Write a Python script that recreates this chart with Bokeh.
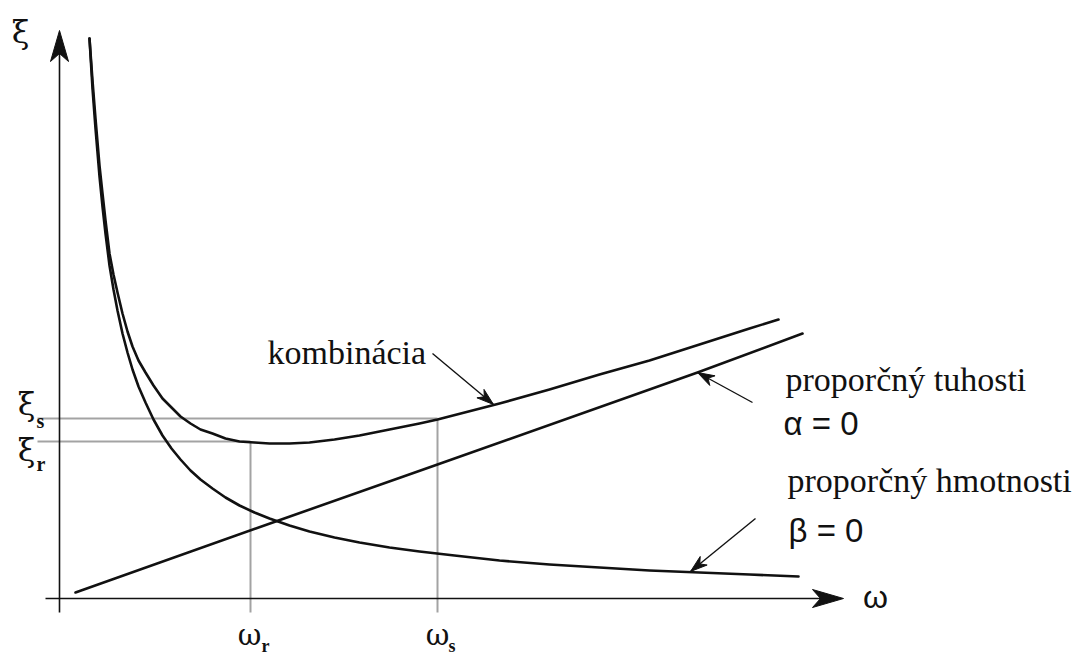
from bokeh.plotting import figure
from bokeh.models import Range1d
from bokeh.core.properties import value
from bokeh.embed import file_html
from bokeh.resources import INLINE
import math

# Rayleigh damping: damping ratio xi against circular frequency omega
# mass-proportional branch (beta = 0)
mass_w = [0.30, 0.33, 0.36, 0.40, 0.43, 0.46, 0.50, 0.54, 0.58, 0.63, 0.68, 0.73,
          0.79, 0.86, 0.94, 1.03, 1.12, 1.21, 1.31, 1.41, 1.53, 1.66, 1.80, 1.95,
          2.10, 2.30, 2.50, 2.75, 3.00, 3.30, 3.60, 3.95, 4.40, 4.90, 5.40, 5.90,
          6.40, 6.90, 7.39]
mass_xi = [5.60, 5.10, 4.70, 4.22, 3.92, 3.65, 3.33, 3.09, 2.88, 2.65, 2.46, 2.29,
           2.12, 1.96, 1.79, 1.63, 1.50, 1.39, 1.28, 1.19, 1.10, 1.01, 0.93, 0.86,
           0.80, 0.73, 0.67, 0.61, 0.56, 0.51, 0.47, 0.43, 0.38, 0.34, 0.31, 0.28,
           0.26, 0.24, 0.22]

# stiffness-proportional branch (alpha = 0)
stiff_w = [0.16, 2.19, 3.78, 6.38, 7.43]
stiff_xi = [0.06, 0.78, 1.34, 2.26, 2.65]

# combined damping
comb_w = [0.30, 0.33, 0.36, 0.40, 0.43, 0.46, 0.50, 0.54, 0.58, 0.63, 0.68, 0.73,
          0.79, 0.86, 0.94, 1.03, 1.12, 1.21, 1.31, 1.41, 1.53, 1.66, 1.80, 1.95,
          2.10, 2.30, 2.50, 2.75, 3.00, 3.30, 3.60, 3.78, 4.40, 4.90, 5.40, 5.90,
          6.40, 6.90, 7.19]
comb_xi = [5.60, 5.18, 4.80, 4.33, 4.05, 3.78, 3.45, 3.24, 3.06, 2.85, 2.67, 2.52,
           2.38, 2.26, 2.13, 2.00, 1.91, 1.82, 1.75, 1.69, 1.65, 1.60, 1.57, 1.56,
           1.55, 1.55, 1.56, 1.59, 1.63, 1.69, 1.75, 1.79, 1.95, 2.09, 2.24, 2.38,
           2.54, 2.70, 2.79]

# reference frequencies and damping ratios
omega_r, omega_s = 1.91, 3.78
xi_r, xi_s = 1.57, 1.80

W, H = 1083, 657
p = figure(width=W, height=H, output_backend="svg", toolbar_location=None,
           x_range=Range1d(-0.59, 10.24), y_range=Range1d(-0.59, 5.98),
           min_border=0)
p.axis.visible = False
p.grid.visible = False
p.outline_line_color = None
p.background_fill_color = "white"
p.border_fill_color = "white"

GRAY = "#a3a3a3"
INK = "#111111"

# guide lines for the two reference points
p.segment(x0=[-0.22, -0.22], y0=[xi_s, xi_r], x1=[omega_s, omega_r], y1=[xi_s, xi_r],
          line_color=GRAY, line_width=2)
p.segment(x0=[omega_r, omega_s], y0=[xi_r, xi_s], x1=[omega_r, omega_s], y1=[-0.14, -0.14],
          line_color=GRAY, line_width=2)

# coordinate axes
x_tip, y_tip = 7.84, 5.68
p.segment(x0=[-0.14, 0], y0=[0, -0.14], x1=[x_tip - 0.2, 0], y1=[0, y_tip - 0.2],
          line_color=INK, line_width=1.6)


def head(x0, y0, x1, y1, length, half_w, notch):
    """Filled, swept-back arrow head pointing from (x0, y0) to (x1, y1)."""
    dx, dy = x1 - x0, y1 - y0
    n = math.hypot(dx, dy)
    ux, uy = dx / n, dy / n
    bx, by = x1 - ux * length, y1 - uy * length
    px_, py_ = -uy, ux
    xs = [x1, bx + px_ * half_w, x1 - ux * notch, bx - px_ * half_w]
    ys = [y1, by + py_ * half_w, y1 - uy * notch, by - py_ * half_w]
    return xs, ys


hx, hy = [], []
for args in [(0, 0, x_tip, 0), (0, 0, 0, y_tip)]:
    xs, ys = head(*args, length=0.31, half_w=0.09, notch=0.23)
    hx.append(xs)
    hy.append(ys)

# curves
line_kw = dict(line_color=INK, line_width=2.6, line_join="round", line_cap="round")
p.line(mass_w, mass_xi, **line_kw)
p.line(comb_w, comb_xi, **line_kw)
p.line(stiff_w, stiff_xi, **line_kw)

# pointer arrows to the curves
pointers = [
    (3.73, 2.45, 4.34, 1.94),
    (6.93, 1.96, stiff_w[3], stiff_xi[3]),
    (6.96, 0.80, 6.31, 0.27),
]
for (x0, y0, x1, y1) in pointers:
    p.segment(x0=[x0], y0=[y0], x1=[x1], y1=[y1], line_color=INK, line_width=1.4)
    xs, ys = head(x0, y0, x1, y1, length=0.17, half_w=0.055, notch=0.12)
    hx.append(xs)
    hy.append(ys)

p.patches(hx, hy, fill_color=INK, line_color=INK, line_width=1)

SERIF = value("Liberation Serif")
SANS = value("Liberation Sans")
GREEK = value("DejaVu Serif")

# curve captions
p.text(x=[2.08], y=[2.46], text=["kombinácia"], text_font=SERIF, text_font_size="34px",
       text_color=INK, text_baseline="alphabetic", text_align="left")
p.text(x=[7.26, 7.28], y=[2.19, 1.18], text=["proporčný tuhosti", "proporčný hmotnosti"],
       text_font=SERIF, text_font_size="34px", text_color=INK,
       text_baseline="alphabetic", text_align="left")
p.text(x=[7.24, 7.29], y=[1.75, 0.68], text=["α = 0", "β = 0"],
       text_font=SANS, text_font_size="33px", text_color=INK,
       text_baseline="alphabetic", text_align="left")

# axis symbols
p.text(x=[-0.39], y=[5.67], text=["ξ"], text_font=GREEK, text_font_size="32px",
       text_color=INK, text_baseline="middle", text_align="center")
p.text(x=[8.16], y=[0.02], text=["ω"], text_font=SANS, text_font_size="32px",
       text_color=INK, text_baseline="middle", text_align="center")

# reference-point symbols with subscripts
p.text(x=[-0.33, -0.33], y=[xi_s + 0.15, xi_r - 0.08], text=["ξ", "ξ"], text_font=GREEK,
       text_font_size="32px", text_color=INK, text_baseline="middle", text_align="center")
p.text(x=[-0.23, -0.23], y=[xi_s - 0.02, xi_r - 0.22], text=["s", "r"], text_font=SERIF,
       text_font_size="20px", text_color=INK, text_baseline="alphabetic", text_align="left",
       text_font_style="bold")
p.text(x=[omega_r - 0.01, omega_s], y=[-0.36, -0.36], text=["ω", "ω"], text_font=GREEK,
       text_font_size="29px", text_color=INK, text_baseline="middle", text_align="center")
p.text(x=[omega_r + 0.11, omega_s + 0.11], y=[-0.47, -0.47], text=["r", "s"], text_font=SERIF,
       text_font_size="18px", text_color=INK, text_baseline="alphabetic", text_align="left",
       text_font_style="bold")

open("out.html", "w").write(file_html(p, INLINE))
